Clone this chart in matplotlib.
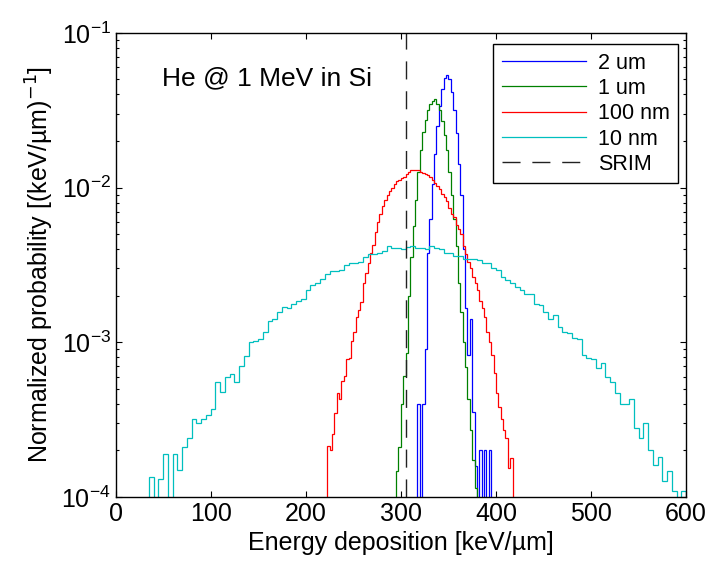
import numpy as np
import matplotlib
matplotlib.use("Agg")
import matplotlib.pyplot as plt

plt.rcParams['font.family'] = ['Liberation Sans', 'DejaVu Sans']

# histogram values, in units of 1e-3 (keV/um)^-1
# 10 nm: bins of 5 keV/um starting at 35
start_10nm = 35.0
width_10nm = 5.0
p_10nm = [0.135, 0, 0.13, 0.19, 0, 0.19, 0.15, 0.21, 0.24, 0.32,
          0.30, 0.32, 0.34, 0.37, 0.55, 0.48, 0.60, 0.62, 0.55, 0.70,
          0.82, 1.00, 1.02, 1.05, 1.17, 1.38, 1.41, 1.58, 1.70, 1.66,
          1.78, 1.86, 1.90, 2.19, 2.34, 2.40, 2.57, 2.75, 2.88, 2.88,
          2.95, 3.16, 3.24, 3.24, 3.31, 3.55, 3.72, 3.72, 3.80, 3.89,
          4.17, 4.07, 4.07, 3.98, 4.12, 4.17, 4.07, 4.07, 3.98, 4.17,
          4.07, 3.98, 3.80, 3.80, 3.63, 3.63, 3.47, 3.47, 3.47, 3.39,
          3.24, 3.24, 3.02, 2.95, 2.63, 2.51, 2.40, 2.29, 2.19, 2.04,
          2.04, 1.78, 1.74, 1.58, 1.41, 1.51, 1.26, 1.17, 1.15, 1.07,
          1.05, 0.83, 0.79, 0.78, 0.68, 0.74, 0.60, 0.55, 0.47, 0.40,
          0.40, 0.43, 0.28, 0.24, 0.30, 0.20, 0.16, 0.18, 0.126, 0.148,
          0.11, 0, 0.11]

# 100 nm: bins of 2.5 starting at 222.5
start_100nm = 222.5
width_100nm = 2.5
p_100nm = [0.214, 0.200, 0.257, 0.347, 0.468, 0.427, 0.562, 0.603, 0.785, 0.794,
           1.02, 1.17, 1.46, 1.62, 1.82, 2.40, 2.79, 3.24, 3.80, 4.27,
           5.13, 6.03, 6.76, 7.59, 8.32, 8.91, 9.55, 10.0, 10.5, 11.0,
           11.2, 11.5, 11.7, 12.2, 12.6, 12.9, 12.9, 13.0, 12.9, 12.6,
           12.4, 12.3, 12.0, 11.7, 11.2, 10.7, 10.2, 9.77, 9.12, 8.71,
           8.13, 7.41, 6.76, 6.46, 5.75, 5.37, 5.01, 4.17, 3.72, 3.31,
           3.02, 2.63, 2.40, 2.19, 1.86, 1.66, 1.45, 1.17, 1.00, 0.83,
           0.63, 0.47, 0.38, 0.32, 0.27, 0.24, 0.155, 0.178]

# 1 um: bins of 2.5 starting at 295
start_1um = 295.0
width_1um = 2.5
p_1um = [0.148, 0.209, 0.398, 0.603, 0.851, 2.00, 3.55, 5.62, 8.32, 12.6,
         17.4, 22.9, 27.5, 31.6, 34.7, 36.3, 37.2, 34.7, 31.6, 26.9,
         21.9, 17.4, 12.6, 8.91, 6.31, 4.17, 2.40, 1.58, 1.00, 0.69,
         0.427, 0.269, 0.174, 0.115]

# 2 um: bins of 2.5 starting at 317.5
start_2um = 317.5
width_2um = 2.5
p_2um = [0.398, 0, 0.398, 0.91, 3.80, 6.31, 10.5, 16.6, 25.1, 33.9,
         43.7, 51.3, 53.7, 50.1, 41.7, 31.6, 22.4, 14.1, 8.91, 3.98,
         1.66, 0.83, 1.41, 0.355, 0.158, 0, 0.20, 0, 0.20, 0,
         0.20, 0]

srim_x = 305.0

labels = ['2 um', '1 um', '100 nm', '10 nm']
colors = ['#0000ff', '#008000', '#ff0000', '#00bfbf']

series = [(start_2um, width_2um, p_2um),
          (start_1um, width_1um, p_1um),
          (start_100nm, width_100nm, p_100nm),
          (start_10nm, width_10nm, p_10nm)]

fig = plt.figure(figsize=(7.11, 5.67), dpi=100)
ax = fig.add_axes([0.1625, 0.1235, 0.8025, 0.8185])

for (x0, w, vals), lab, col in zip(series, labels, colors):
    vals = np.array(vals) * 1e-3
    edges = x0 + w * np.arange(len(vals) + 1)
    ax.stairs(vals, edges, baseline=0, color=col, lw=0.9, label=lab)

ax.axvline(srim_x, color='#222222', lw=1.0, dashes=(13, 8.5), label='SRIM')

ax.set_yscale('log')
ax.set_xlim(0, 600)
ax.set_ylim(1e-4, 1e-1)
ax.set_xticks([0, 100, 200, 300, 400, 500, 600])

ax.tick_params(which='both', direction='in', top=True, right=True,
               labelsize=18, width=0.8)
ax.tick_params(which='major', length=4.5)
ax.tick_params(which='minor', length=2.5)
for s in ax.spines.values():
    s.set_linewidth(1.0)

ax.set_xlabel('Energy deposition [keV/\u00b5m]', fontsize=18, labelpad=4)
ax.set_ylabel('Normalized probability [(keV/\u00b5m)$^{-1}$]', fontsize=18,
              labelpad=4)

ax.text(49, 0.051, 'He @ 1 MeV in Si', fontsize=19, va='center', ha='left')

leg = ax.legend(loc='upper right', bbox_to_anchor=(0.986, 0.976),
                borderaxespad=0, fontsize=15.5, fancybox=False,
                edgecolor='black', framealpha=1, handlelength=3.9,
                labelspacing=0.2, handletextpad=0.55, borderpad=0.4)
leg.get_frame().set_linewidth(1.0)

fig.savefig('out.png', dpi=100)
